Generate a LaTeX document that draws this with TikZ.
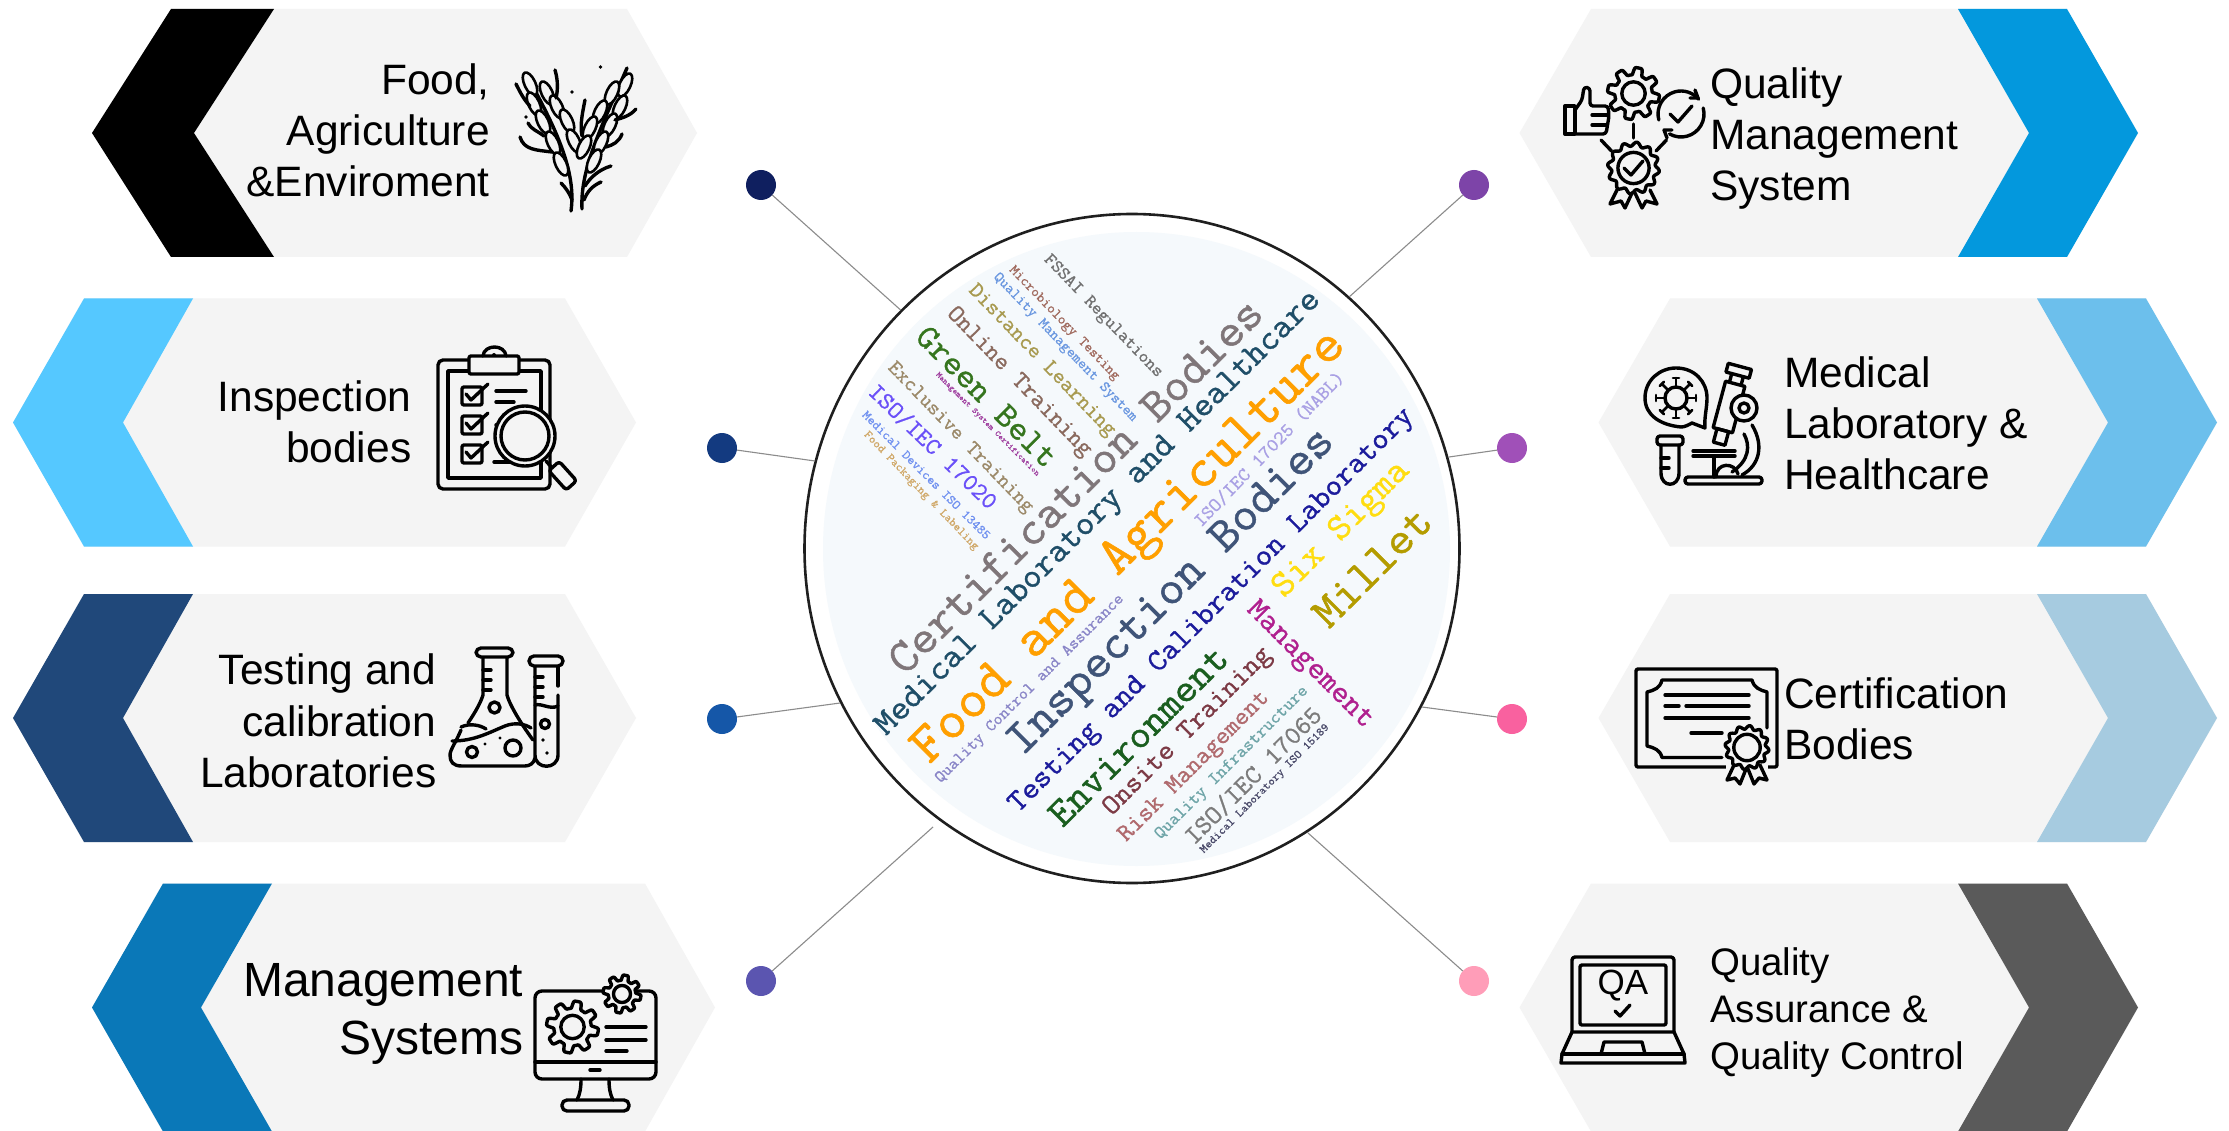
\documentclass[tikz,border=0pt]{standalone}
\usepackage{graphicx}
\usepackage{fontspec}
\usetikzlibrary{shapes.geometric}
\setmainfont{Liberation Sans}
\newfontfamily\wcfont{Latin Modern Mono}[FakeBold=1]
\definecolor{hexbg}{HTML}{F4F4F4}
\definecolor{linegrey}{HTML}{8C8C8C}
\definecolor{cloudbg}{HTML}{F5F9FC}
\definecolor{chB}{HTML}{55C8FF}
\definecolor{chC}{HTML}{20487A}
\definecolor{chD}{HTML}{0A78B8}
\definecolor{chE}{HTML}{0398DD}
\definecolor{chF}{HTML}{6CBFEC}
\definecolor{chG}{HTML}{A6CBE0}
\definecolor{chH}{HTML}{5A5A5A}
\tikzset{
 ic/.style={draw=black,line width=3.4pt,line cap=round,line join=round},
 dotnode/.style={circle,minimum size=30pt,inner sep=0pt,draw=none},
 conn/.style={draw=linegrey,line width=1.1pt},
 lab/.style={inner sep=0pt,text=black},
 labr/.style={lab,align=right,anchor=base east},
 labl/.style={lab,align=left,anchor=base west},
}
% hexagon with left chevron: yc tip corner inner top right righttip colour
\newcommand\hexleft[8]{%
 \fill[hexbg] (#3,#1-124)--(#6,#1-124)--(#7,#1)--(#6,#1+124)--(#3,#1+124)--(#2,#1)--cycle;
 \fill[#8] (#2,#1)--(#3,#1-124)--(#5,#1-124)--(#4,#1)--(#5,#1+124)--(#3,#1+124)--cycle;}
% hexagon with right chevron: yc lefttip leftcorner chevleft inner chevright tip colour
\newcommand\hexright[8]{%
 \fill[hexbg] (#2,#1)--(#3,#1-124)--(#6,#1-124)--(#7,#1)--(#6,#1+124)--(#3,#1+124)--cycle;
 \fill[#8] (#4,#1-124)--(#6,#1-124)--(#7,#1)--(#6,#1+124)--(#4,#1+124)--(#5,#1)--cycle;}
\newcommand\wc[7]{\definecolor{wccol}{HTML}{#6}\pgfmathsetmacro\wcsize{#5*1.15}\node[inner sep=0pt,rotate=#4,text=wccol,font=\wcfont\fontsize{\wcsize}{\wcsize}\selectfont] (#1) at (#2,#3) {\scalebox{1.05}[1]{#7}};}
\newcommand\gearicon[3]{\draw[ic,fill=hexbg,shift={(#1,#2)}] plot[variable=\t,domain=0:360,samples=145] (\t:{#3*(0.86+0.14*max(-1,min(1,2.2*sin(8*\t))))}) -- cycle;
 \draw[ic,shift={(#1,#2)}] (0,0) circle[radius=#3*0.45];}
\newcommand\sealicon[3]{\draw[ic,fill=hexbg,shift={(#1,#2)}] plot[variable=\t,domain=0:360,samples=145] (\t:{#3*(0.92+0.08*sin(12*\t))}) -- cycle;
 \draw[ic,shift={(#1,#2)}] (0,0) circle[radius=#3*0.6];}
\begin{document}
\begin{tikzpicture}[x=1pt,y=-1pt]
\useasboundingbox (0,0) rectangle (2229,1131);
\fill[white] (0,0) rectangle (2229,1131);
% hexagons
\hexleft{133}{92}{171}{194}{274}{627}{697}{black}
\hexleft{422.5}{13}{84}{123}{193}{565}{636}{chB}
\hexleft{718}{13}{84}{123}{193}{565}{636}{chC}
\hexleft{1007.5}{92}{163}{201}{272}{645}{715}{chD}
\hexright{133}{1519.5}{1591}{1958}{2029}{2067}{2138}{chE}
\hexright{422.5}{1598.5}{1670}{2037}{2108}{2146}{2217}{chF}
\hexright{718}{1598.5}{1670}{2037}{2108}{2146}{2217}{chG}
\hexright{1007.5}{1519.5}{1591}{1958}{2029}{2067}{2138}{chH}
% labels (anchor is the baseline of the last line)
\node[labr,font=\fontsize{42.5}{51}\selectfont] (t1) at (490,196.5) {Food,\\Agriculture\\\&Enviroment};
\node[labr,font=\fontsize{42.5}{51}\selectfont] (t2) at (411.5,462.5) {Inspection\\bodies};
\node[labr,font=\fontsize{42.5}{51.5}\selectfont] (t3) at (436.5,787.5) {Testing and\\calibration\\Laboratories};
\node[labr,font=\fontsize{48}{58}\selectfont] (t4) at (523.5,1054.5) {Management\\Systems};
\node[labl,font=\fontsize{42.5}{51}\selectfont] (t5) at (1710,200.5) {Quality\\Management\\System};
\node[labl,font=\fontsize{42.5}{51}\selectfont] (t6) at (1784,489.5) {Medical\\Laboratory \&\\Healthcare};
\node[labl,font=\fontsize{42.5}{51}\selectfont] (t7) at (1784,759) {Certification\\Bodies};
\node[labl,font=\fontsize{38.4}{47}\selectfont] (t8) at (1710,1069.5) {Quality\\Assurance \&\\Quality Control};
% hub
\node[ellipse,draw=black!88,line width=2.6pt,fill=white,minimum width=655pt,minimum height=669pt,inner sep=0pt] (hub) at (1132,548.5) {};
\node[ellipse,fill=cloudbg,minimum width=627pt,minimum height=634pt,inner sep=0pt] (cloud) at (1136.5,549) {};
% connectors
\coordinate (e1) at (900.6,310);
\coordinate (e2) at (815,461);
\coordinate (e3) at (840,703);
\coordinate (e4) at (933,827);
\coordinate (e5) at (1349.4,296.7);
\coordinate (e6) at (1449,457);
\coordinate (e7) at (1422,707);
\coordinate (e8) at (1308,833);
\node[dotnode,fill={rgb,255:red,15;green,31;blue,95}] (d1) at (761,185) {};
\node[dotnode,fill={rgb,255:red,19;green,58;blue,128}] (d2) at (722,448) {};
\node[dotnode,fill={rgb,255:red,21;green,87;blue,168}] (d3) at (722,719) {};
\node[dotnode,fill={rgb,255:red,91;green,85;blue,176}] (d4) at (761,981) {};
\node[dotnode,fill={rgb,255:red,125;green,68;blue,168}] (d5) at (1474,185) {};
\node[dotnode,fill={rgb,255:red,160;green,80;blue,184}] (d6) at (1512,448) {};
\node[dotnode,fill={rgb,255:red,249;green,97;blue,159}] (d7) at (1512,719) {};
\node[dotnode,fill={rgb,255:red,255;green,157;blue,184}] (d8) at (1474,981) {};
\draw[conn] (d1)--(e1); \draw[conn] (d2)--(e2); \draw[conn] (d3)--(e3); \draw[conn] (d4)--(e4);
\draw[conn] (d5)--(e5); \draw[conn] (d6)--(e6); \draw[conn] (d7)--(e7); \draw[conn] (d8)--(e8);
% word cloud
\wc{w1}{1075}{486}{45}{41}{7F7679}{Certification Bodies}
\wc{w2}{1099}{514}{45}{30}{1F4E68}{Medical Laboratory and Healthcare}
\wc{w3}{1130.5}{548.5}{45}{47.5}{FF9F00}{Food and Agriculture}
\wc{w4}{1269}{449}{46}{16.7}{A9A0E4}{ISO/IEC 17025 (NABL)}
\wc{w5}{1030}{689}{45}{14.4}{8A86C8}{Quality Control and Assurance}
\wc{w6}{1172.5}{593.5}{45}{41.9}{3F5478}{Inspection Bodies}
\wc{w7}{1212}{611}{45}{26.5}{1C1C9C}{Testing and Calibration Laboratory}
\wc{w8}{1342}{530}{45}{32}{FFDD10}{Six Sigma}
\wc{w9}{1372}{567}{45}{40}{B49C00}{Millet}
\wc{w10}{1138}{736}{45}{34.7}{1A5E1F}{Environment}
\wc{w11}{1188}{732}{45}{24.3}{7C3A45}{Onsite Training}
\wc{w12}{1194.5}{767}{45}{21.8}{B06A6E}{Risk Management}
\wc{w13}{1232}{763}{45}{15.3}{6FA5A8}{Quality Infrastructure}
\wc{w14}{1253}{775.5}{45}{22.6}{7C7C7C}{ISO/IEC 17065}
\wc{w15}{1265}{789}{45}{10.2}{4A4A6A}{Medical Laboratory ISO 15189}
\wc{w16}{1309.5}{665.5}{-45}{27}{B0208F}{Management}
\wc{w17}{1103}{316.5}{-46}{15.5}{707070}{FSSAI Regulations}
\wc{w18}{1064}{323.5}{-46}{12.3}{A06A5E}{Microbiology Testing}
\wc{w19}{1065}{347.5}{-46}{12.9}{6A97E0}{Quality Management System}
\wc{w20}{1041.5}{361}{-46}{19.2}{A89A50}{Distance Learning}
\wc{w21}{1019}{382.5}{-46}{21.3}{8A6A5E}{Online Training}
\wc{w22}{987}{396.5}{-45}{29.8}{35751E}{Green Belt}
\wc{w23}{987.5}{424.5}{-45}{7.2}{A040A0}{Management System Certification}
\wc{w24}{960}{438}{-46}{18}{9C8A6A}{Exclusive Training}
\wc{w25}{933}{446.5}{-44}{20.9}{6A50F8}{ISO/IEC 17020}
\wc{w26}{926.5}{475}{-45}{11.3}{6F90F0}{Medical Devices ISO 13485}
\wc{w27}{921}{491}{-46}{10.3}{D0A868}{Food Packaging \& Labeling}
% wheat icon: stems first, open kernels over them
\draw[ic] (571,211) .. controls (576,175) and (560,135) .. (528,78);
\draw[ic] (582,209) .. controls (580,170) and (600,130) .. (627,68);
\foreach \a/\b in {530/84,547/93,534/104,557/107,543/122,567/121,553/143,574/141,561/164}
 \draw[ic,line width=2.6pt,fill=hexbg] (\a,\b) ellipse[x radius=12.5,y radius=5.5,rotate=-65];
\foreach \a/\b in {625/85,612/93,620/107,600/112,610/125,590/128,601/143,584/147,594/161}
 \draw[ic,line width=2.6pt,fill=hexbg] (\a,\b) ellipse[x radius=12.5,y radius=5.5,rotate=65];
\draw[ic] (516,84) .. controls (520,92) and (524,100) .. (530,106);
\draw[ic] (528,123) .. controls (532,130) and (536,130) .. (544,136);
\draw[ic] (520,137) .. controls (524,150) and (536,150) .. (552,152);
\draw[ic] (561,183) .. controls (566,188) and (570,194) .. (572,200);
\draw[ic] (611,166) .. controls (598,170) and (590,178) .. (585,186);
\draw[ic] (601,182) .. controls (592,186) and (587,192) .. (584,200);
\draw[ic] (636,109) .. controls (630,116) and (622,118) .. (615,120);
\draw[ic] (622,134) .. controls (619,142) and (613,145) .. (606,147);
\draw[ic] (555,70) .. controls (558,80) and (558,90) .. (556,98);
\draw[ic] (585,100) .. controls (582,115) and (580,125) .. (582,136);
\fill (572,92) circle[radius=1.8]; \fill (526,117) circle[radius=1.8]; \fill (600.5,67) circle[radius=1.8];
% clipboard icon
\draw[ic,rounded corners=5pt] (438,360) rectangle (550,489);
\draw[ic] (448,371) rectangle (541,478);
\draw[ic,fill=hexbg,rounded corners=2pt] (469,356) rectangle (519,374);
\draw[ic] (483,356) .. controls (484,344) and (505,344) .. (506,356);
\fill (494,355) circle[radius=2];
\foreach \b in {387,416,445}{
 \draw[ic,rounded corners=2pt] (462,\b) rectangle (482,\b+18);
 \draw[ic] (466,\b+7) -- (471,\b+13) -- (488,\b-3);}
\draw[ic] (496,391) -- (526,391); \draw[ic] (496,402) -- (514,402);
\draw[ic] (496,425) -- (505,425); \draw[ic] (496,435)--(500,435); \draw[ic] (494,462) -- (510,462);
\draw[ic,fill=hexbg] (525,436) circle[radius=30];
\draw[ic] (525,436) circle[radius=24];
\draw[ic] (546,461) -- (553,469);
\draw[ic,rounded corners=3pt,fill=hexbg,rotate around={-48:(562,475)}] (550,468) rectangle (576,482);
% flask icon
\draw[ic,rounded corners=5pt] (476,648) rectangle (513,657);
\draw[ic] (483,658) -- (483,695) .. controls (480,705) and (472,717) .. (468,723);
\draw[ic] (461,730) .. controls (456,742) and (450,750) .. (450,755) .. controls (450,762) and (453,766) .. (462,766) -- (525,766) .. controls (530,766) and (534,763) .. (535,758);
\draw[ic] (507,658) -- (507,695) .. controls (510,706) and (522,725) .. (533,740);
\draw[ic] (483,670) -- (491,670); \draw[ic] (483,680) -- (491,680); \draw[ic] (483,690) -- (491,690);
\draw[ic] (452,741) .. controls (475,741) and (490,732) .. (505,726) .. controls (515,722) and (525,724) .. (531,728);
\draw[ic] (461,727) .. controls (470,723) and (480,725) .. (486,729);
\draw[ic] (494.5,707.5) circle[radius=5.5];
\draw[ic] (472,752) circle[radius=5.5];
\draw[ic] (513,748) circle[radius=8];
\fill (485,744) circle[radius=1.6]; \fill (500,738) circle[radius=1.6];
\draw[ic,rounded corners=5pt] (529,656) rectangle (563,666);
\draw[ic] (535,667) -- (535,755) .. controls (535,770) and (558,770) .. (558,755) -- (558,695);
\draw[ic] (558,667) -- (558,686);
\draw[ic] (535,677) -- (543,677); \draw[ic] (535,687) -- (543,687); \draw[ic] (535,697) -- (543,697);
\draw[ic] (535,705) .. controls (542,703) and (550,710) .. (558,706);
\draw[ic] (545,724) circle[radius=4.5];
\fill (543,740) circle[radius=1.8]; \fill (547,753) circle[radius=1.8];
% monitor icon
\draw[ic,rounded corners=7pt] (535,991) rectangle (656,1079);
\draw[ic] (535,1062) -- (656,1062);
\draw[ic] (590,1070) -- (600,1070);
\draw[ic] (581,1079) .. controls (581,1088) and (580,1094) .. (577,1100);
\draw[ic] (609,1079) .. controls (609,1088) and (610,1094) .. (613,1100);
\draw[ic,rounded corners=5pt] (562,1100) rectangle (629,1111);
\gearicon{572.5}{1027}{26}
\gearicon{622}{994}{19}
\draw[ic] (606,1027) -- (646,1027); \draw[ic] (606,1040) -- (646,1040); \draw[ic] (606,1051) -- (627,1051);
% QMS icon
\gearicon{1633.5}{93.5}{26}
\draw[ic] (1633.5,124) -- (1633.5,138);
\draw[ic] (1601,140) -- (1611.5,151);
\draw[ic] (1666.5,140) -- (1656,151);
\sealicon{1633.5}{168}{26}
\draw[ic] (1624,168) -- (1631,175) -- (1643,161);
\draw[ic] (1617,190) -- (1610,204) -- (1621,201) -- (1625,208) -- (1632,193);
\draw[ic] (1650,190) -- (1657,204) -- (1646,201) -- (1642,208) -- (1635,193);
\draw[ic] (1565,106) rectangle (1575,134);
\draw[ic,rounded corners=3pt] (1575,110) -- (1582,100) -- (1584,87) -- (1590,88) -- (1590,106) -- (1608,106) -- (1609,116) -- (1606,134) -- (1575,134);
\draw[ic] (1592,115) -- (1608,115); \draw[ic] (1592,125) -- (1606,125);
\draw[ic] ([shift={(165:23)}]1681,114) arc[start angle=165,end angle=320,radius=23];
\draw[ic] ([shift={(345:23)}]1681,114) arc[start angle=345,end angle=480,radius=23];
\draw[ic] (1695,90) -- (1698,98) -- (1690,98);
\draw[ic] (1667,138) -- (1664,130) -- (1672,130);
\draw[ic] (1670,114) -- (1678,122) -- (1692,106);
% microscope icon
\draw[ic] (1681,427) .. controls (1660,425) and (1645,415) .. (1645,398) .. controls (1645,380) and (1660,368) .. (1676,368) .. controls (1695,368) and (1707,382) .. (1707,398) .. controls (1707,408) and (1704,418) .. (1705,428) -- (1692,423) .. controls (1688,425) and (1685,427) .. (1681,427);
\draw[ic] (1676,398) circle[radius=11];
\foreach \q in {0,45,...,315}{\draw[ic,line width=2.6pt,shift={(1676,398)},rotate=\q] (11,0) -- (20,0); \draw[ic,line width=2.6pt,shift={(1676,398)},rotate=\q] (20,-3) -- (20,3);}
\draw[ic,rounded corners=3pt] (1657,436) rectangle (1683,445);
\draw[ic] (1661,445) -- (1661,473) .. controls (1661,488) and (1679,488) .. (1679,473) -- (1679,445);
\draw[ic] (1661,458) -- (1669,458); \draw[ic] (1661,468) -- (1669,468);
\draw[ic,rounded corners=3pt] (1685,477) rectangle (1762,484);
\draw[ic] (1693,451) -- (1735,451); \draw[ic] (1693,456) -- (1735,456);
\draw[ic] (1714,456) -- (1714,477);
\draw[ic] (1716,477) .. controls (1716,462) and (1735,462) .. (1738,474);
\draw[ic] (1752,425) .. controls (1764,445) and (1760,465) .. (1742,475);
\draw[ic] (1744,434) .. controls (1750,445) and (1750,460) .. (1732,472);
\begin{scope}[shift={(1729,407)},rotate=-15]
 \draw[ic,fill=hexbg] (-10,-24) rectangle (10,24);
 \draw[ic] (-6,-24) -- (-6,-33); \draw[ic] (6,-24) -- (6,-33);
 \draw[ic] (-12,-33) rectangle (12,-42);
 \draw[ic] (-6,24) rectangle (6,38);
\end{scope}
\draw[ic,fill=hexbg] (1744,408) circle[radius=13];
\draw[ic] (1744,408) circle[radius=5];
% certificate icon
\draw[ic,rounded corners=2pt] (1636,669) rectangle (1777,767);
\draw[ic] (1722,757.5) -- (1662,757.5) .. controls (1660,750) and (1655,748) .. (1647,746) -- (1647,692) .. controls (1655,690) and (1660,688) .. (1662,680) -- (1752,680) .. controls (1754,688) and (1760,690) .. (1767,692) -- (1767,728);
\draw[ic] (1665,695) -- (1749,695); \draw[ic] (1665,706) -- (1679,706); \draw[ic] (1686,706) -- (1749,706); \draw[ic] (1665,718) -- (1749,718); \draw[ic] (1691,733) -- (1722,733);
\fill[hexbg] (1726,764) rectangle (1768,770);
\sealicon{1747}{747.5}{22}
\draw[ic] (1734,765) -- (1727,780) -- (1735,778) -- (1740,784) -- (1746,769);
\draw[ic] (1760,765) -- (1767,780) -- (1759,778) -- (1754,784) -- (1748,769);
% laptop icon
\draw[ic,rounded corners=3pt] (1572,1032) -- (1572,957) -- (1674,957) -- (1674,1032);
\draw[ic,rounded corners=2pt] (1580,965) rectangle (1666,1025);
\node[inner sep=0pt,font=\fontsize{35}{35}\selectfont] (qa) at (1623,986) {QA};
\draw[ic] (1615,1011) -- (1620,1016) -- (1630,1005);
\draw[ic] (1572,1032) -- (1674,1032) -- (1684,1054) -- (1685,1063) -- (1561,1063) -- (1562,1054) -- cycle;
\draw[ic] (1562,1054) -- (1684,1054);
\draw[ic] (1601,1054) -- (1604,1042) -- (1642,1042) -- (1645,1054);
\end{tikzpicture}
\end{document}
